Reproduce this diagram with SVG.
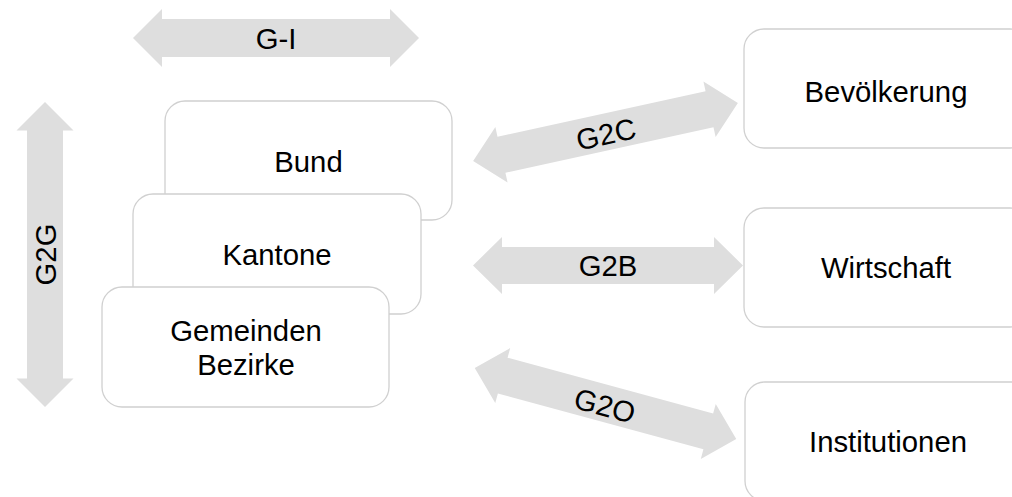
<svg xmlns="http://www.w3.org/2000/svg" width="1012" height="497" viewBox="0 0 1012 497">
<style>
.box{fill:#ffffff;stroke:#d0d0d0;stroke-width:1.3}
.arr{fill:#dedede;stroke:none}
text{font-family:"Liberation Sans",Arial,sans-serif;font-size:29.3px;fill:#000000;text-anchor:middle}
</style>
<rect width="1012" height="497" fill="#ffffff"/>
<g id="connectors">
  <g id="g-i" transform="translate(276,38)">
    <polygon class="arr" points="-143,0 -114,-29 -114,-19 114,-19 114,-29 143,0 114,29 114,19 -114,19 -114,29"/>
    <text x="0" y="10.5">G-I</text>
  </g>
  <g id="g2g" transform="translate(45,254.5) rotate(-90)">
    <polygon class="arr" points="-152.5,0 -124,-28.5 -124,-18 124,-18 124,-28.5 152.5,0 124,28.5 124,18 -124,18 -124,28.5"/>
    <text x="0" y="11">G2G</text>
  </g>
  <g id="g2c" transform="translate(605.5,132) rotate(-12.35)">
    <polygon class="arr" points="-135.5,0 -106.5,-28.5 -106.5,-18.5 106.5,-18.5 106.5,-28.5 135.5,0 106.5,28.5 106.5,18.5 -106.5,18.5 -106.5,28.5"/>
    <text x="0" y="12.5">G2C</text>
  </g>
  <g id="g2b" transform="translate(608,265.5)">
    <polygon class="arr" points="-135,0 -106,-28.5 -106,-18.5 106,-18.5 106,-28.5 135,0 106,28.5 106,18.5 -106,18.5 -106,28.5"/>
    <text x="0" y="10.5">G2B</text>
  </g>
  <g id="g2o" transform="translate(605.5,403.5) rotate(15.2)">
    <polygon class="arr" points="-135.5,0 -106.5,-28.5 -106.5,-18.5 106.5,-18.5 106.5,-28.5 135.5,0 106.5,28.5 106.5,18.5 -106.5,18.5 -106.5,28.5"/>
    <text x="0" y="12.5">G2O</text>
  </g>
</g>
<g id="bund">
  <rect class="box" x="165" y="101" width="287" height="119" rx="20"/>
  <text x="308.5" y="172">Bund</text>
</g>
<g id="kantone">
  <rect class="box" x="133" y="194" width="288" height="120" rx="20"/>
  <text x="277" y="265">Kantone</text>
</g>
<g id="gemeinden">
  <rect class="box" x="102" y="287" width="287" height="120" rx="20"/>
  <text x="246" y="341">Gemeinden</text>
  <text x="246" y="375">Bezirke</text>
</g>
<g id="bevoelkerung">
  <rect class="box" x="744" y="29" width="286" height="119" rx="20"/>
  <text x="886" y="102">Bevölkerung</text>
</g>
<g id="wirtschaft">
  <rect class="box" x="744" y="208" width="286" height="119" rx="20"/>
  <text x="886" y="278">Wirtschaft</text>
</g>
<g id="institutionen">
  <rect class="box" x="745" y="382" width="286" height="119" rx="20"/>
  <text x="888" y="452">Institutionen</text>
</g>
</svg>
